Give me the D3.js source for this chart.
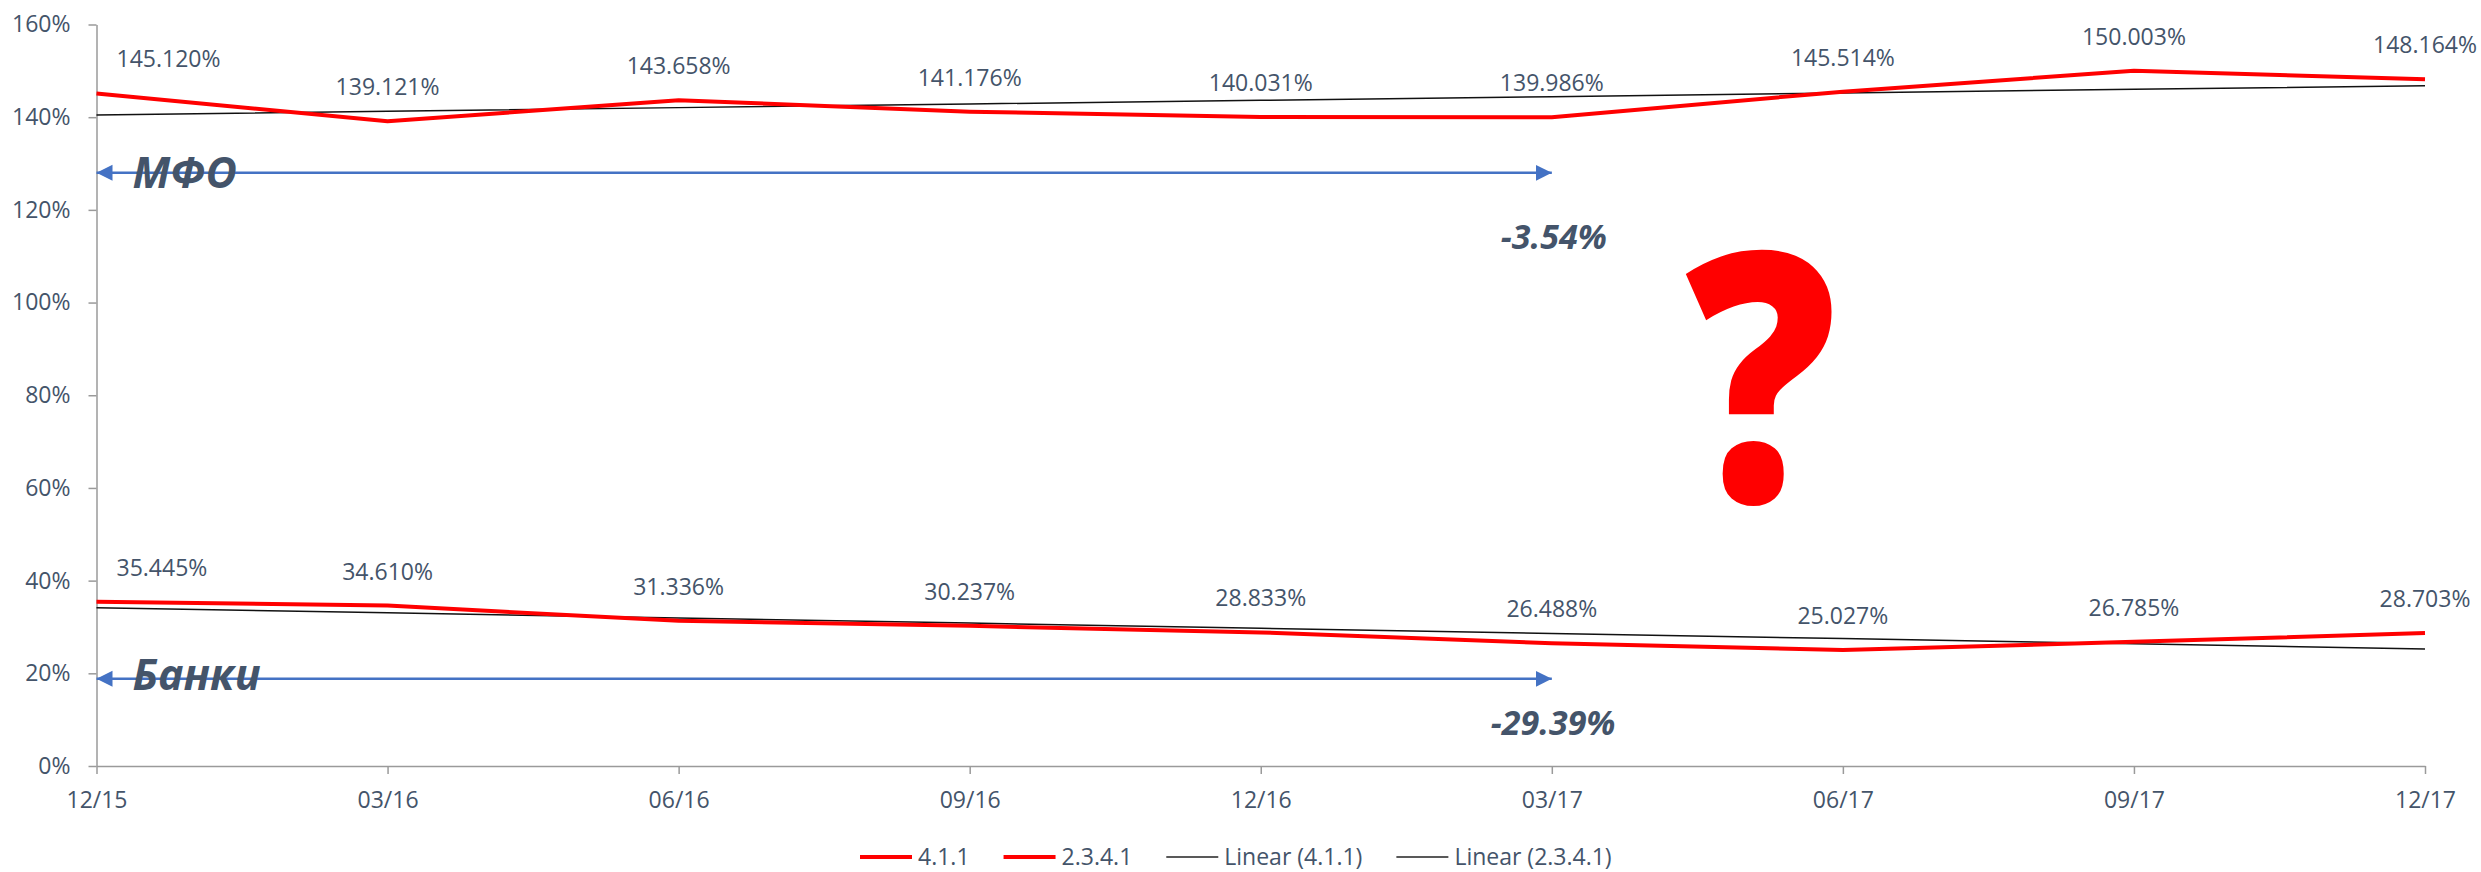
<!DOCTYPE html>
<html>
<head>
<meta charset="utf-8">
<script src="https://cdn.jsdelivr.net/npm/d3@7"></script>
<style>
  body { margin: 0; background: #fff; }
  svg { font-family: "Open Sans", sans-serif; }
</style>
</head>
<body>
<svg id="chart" width="2481" height="872"></svg>
<script>
// data
const quarters = ['12/15','03/16','06/16','09/16','12/16','03/17','06/17','09/17','12/17'];
const mfoValues = [145.120, 139.121, 143.658, 141.176, 140.031, 139.986, 145.514, 150.003, 148.164];
const bankValues = [35.445, 34.610, 31.336, 30.237, 28.833, 26.488, 25.027, 26.785, 28.703];
const yTicks = [0, 20, 40, 60, 80, 100, 120, 140, 160];
const legendNames = ['4.1.1', '2.3.4.1', 'Linear (4.1.1)', 'Linear (2.3.4.1)'];
const groupLabels = ['МФО', 'Банки'];
const changeLabels = ['-3.54%', '-29.39%'];
const arrowLevels = [128, 18.8];
const arrowSpan = ['12/15', '03/17'];

class ratioChart {
  constructor(){
    this.svg = d3.select('#chart');
    this.margin = {top: 24.5, right: 56, bottom: 106, left: 96.5};
    this.width = 2481 - this.margin.left - this.margin.right;
    this.height = 872 - this.margin.top - this.margin.bottom;
    this.textColor = '#44546A';

    this.x = d3.scalePoint().domain(quarters).range([this.margin.left, this.margin.left + this.width]);
    this.y = d3.scaleLinear().domain([0, 160]).range([this.margin.top + this.height, this.margin.top]);
  }

  // least squares line, same as excel's linear trendline
  linearFit(vals){
    let mx = d3.mean(vals, (d,i) => i);
    let my = d3.mean(vals);
    let sxy = d3.sum(vals, (d,i) => (i - mx) * (d - my));
    let sxx = d3.sum(vals, (d,i) => (i - mx) * (i - mx));
    let b = sxy / sxx;
    let a = my - b * mx;
    return vals.map((d,i) => a + b * i);
  }

  drawAxes(){
    let self = this;
    let yAxis = d3.axisLeft(this.y).tickValues(yTicks).tickSize(8).tickSizeOuter(0).tickPadding(18)
      .tickFormat(d => d + '%');
    let gy = this.svg.append('g')
      .attr('transform', 'translate(' + this.margin.left + ',0)')
      .call(yAxis);

    let xAxis = d3.axisBottom(this.x).tickSize(8).tickSizeOuter(0).tickPadding(18);
    let gx = this.svg.append('g')
      .attr('transform', 'translate(0,' + (this.margin.top + this.height) + ')')
      .call(xAxis);

    [gx, gy].forEach(g => {
      g.selectAll('path, line').attr('stroke', '#9a9a9a').attr('stroke-width', 1.5);
      g.selectAll('text').attr('fill', self.textColor).attr('font-size', 23).attr('font-family', '"Open Sans", sans-serif');
    });
  }

  drawSeries(vals){
    let line = d3.line().x((d,i) => this.x(quarters[i])).y(d => this.y(d));

    // trend first so red line sits on top
    this.svg.append('path')
      .datum(this.linearFit(vals))
      .attr('d', line)
      .attr('fill', 'none')
      .attr('stroke', '#111')
      .attr('stroke-width', 1.5);

    this.svg.append('path')
      .datum(vals)
      .attr('d', line)
      .attr('fill', 'none')
      .attr('stroke', '#FF0000')
      .attr('stroke-width', 4)
      .attr('stroke-linejoin', 'round');

    this.svg.append('g').selectAll('text')
      .data(vals)
      .enter()
      .append('text')
        .attr('x', (d,i) => this.x(quarters[i]) + (i == 0 ? 20 : 0))
        .attr('y', d => this.y(d) - 26)
        .attr('text-anchor', (d,i) => i == 0 ? 'start' : 'middle')
        .attr('fill', this.textColor)
        .attr('font-size', 23)
        .text(d => d.toFixed(3) + '%');
  }

  drawNotes(){
    let defs = this.svg.append('defs');
    ['arrowEnd', 'arrowStart'].forEach((id, k) => {
      defs.append('marker')
        .attr('id', id)
        .attr('viewBox', '0 0 10 10')
        .attr('refX', k == 0 ? 10 : 0).attr('refY', 5)
        .attr('markerWidth', 16).attr('markerHeight', 17)
        .attr('markerUnits', 'userSpaceOnUse')
        .attr('orient', 'auto')
        .append('path')
          .attr('d', k == 0 ? 'M0,0L10,5L0,10Z' : 'M10,0L0,5L10,10Z')
          .attr('fill', '#4472C4');
    });

    let x0 = this.x(arrowSpan[0]), x1 = this.x(arrowSpan[1]);
    arrowLevels.forEach((lv, i) => {
      let ay = this.y(lv);
      this.svg.append('line')
        .attr('x1', x0).attr('x2', x1)
        .attr('y1', ay).attr('y2', ay)
        .attr('stroke', '#4472C4')
        .attr('stroke-width', 2.5)
        .attr('marker-end', 'url(#arrowEnd)')
        .attr('marker-start', 'url(#arrowStart)');

      this.svg.append('text')
        .attr('x', x0 + 36)
        .attr('y', ay + (i == 0 ? 15 : 11))
        .attr('fill', this.textColor)
        .attr('font-size', 43)
        .attr('font-weight', 'bold')
        .attr('font-style', 'italic')
        .text(groupLabels[i]);

      this.svg.append('text')
        .attr('x', x1 - (i == 0 ? 51 : 61))
        .attr('y', ay + (i == 0 ? 76 : 56))
        .attr('fill', this.textColor)
        .attr('font-size', 34)
        .attr('font-weight', 'bold')
        .attr('font-style', 'italic')
        .text(changeLabels[i]);
    });

    // big red question mark between 03/17 and 06/17
    let qx = this.x(quarters[5]) + 0.72 * this.x.step();
    this.svg.append('text')
      .attr('transform', 'translate(' + qx + ',' + this.y(57) + ') scale(0.86,1)')
      .attr('text-anchor', 'middle')
      .attr('fill', '#FF0000')
      .attr('font-size', 348)
      .attr('font-weight', 800)
      .text('?');
  }

  drawLegend(){
    let colors = ['#FF0000', '#FF0000', '#222', '#222'];
    let widths = [4, 4, 1.5, 1.5];
    let lg = this.svg.append('g').attr('transform', 'translate(860,857)');
    let cx = 0;
    legendNames.forEach((name, i) => {
      let item = lg.append('g').attr('transform', 'translate(' + cx + ',0)');
      item.append('line')
        .attr('x1', 0).attr('x2', 52)
        .attr('stroke', colors[i])
        .attr('stroke-width', widths[i]);
      let t = item.append('text')
        .attr('x', 58)
        .attr('dy', '0.35em')
        .attr('fill', this.textColor)
        .attr('font-size', 23)
        .text(name);
      cx += 58 + t.node().getComputedTextLength() + 34;
    });
  }

  update(){
    this.drawAxes();
    this.drawSeries(mfoValues);
    this.drawSeries(bankValues);
    this.drawNotes();
    this.drawLegend();
    return true;
  }
}

let chart = new ratioChart();
chart.update();
</script>
</body>
</html>
